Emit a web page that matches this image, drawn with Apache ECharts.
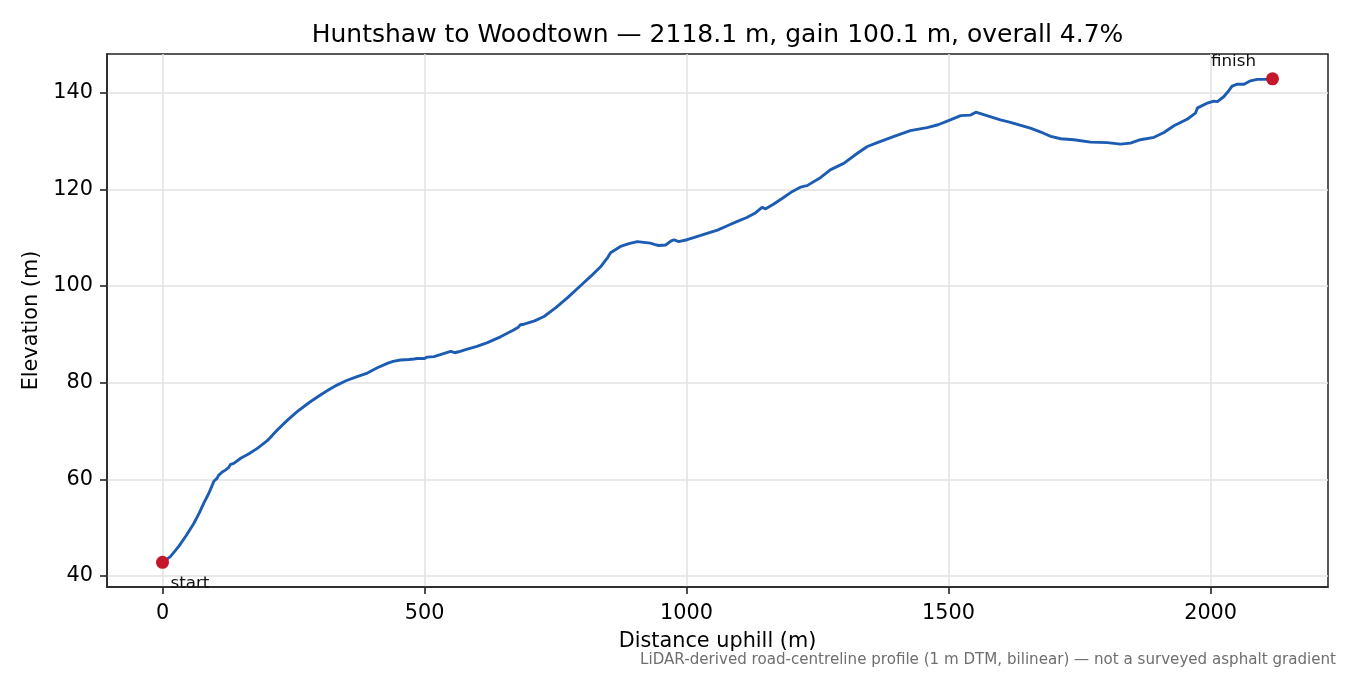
<!DOCTYPE html>
<html>
<head>
<meta charset="utf-8">
<title>Huntshaw to Woodtown</title>
<script src="https://cdn.jsdelivr.net/npm/echarts@6/dist/echarts.min.js"></script>
<style>
  html, body { margin: 0; padding: 0; background: #fff; }
  #main { width: 1350px; height: 675px; }
</style>
</head>
<body>
<div id="main"></div>
<script>
// distance along the road (m) and elevation (m)
var distance = [
  0, 15, 31, 45, 60, 70, 79, 88, 95, 98, 104, 107, 114, 120, 126, 130, 136,
  150, 165, 181, 200, 219, 238, 257, 280, 302, 318, 333, 350, 370, 391,
  410, 429, 440, 454, 470, 480, 483, 486, 500, 505, 518, 530, 550, 558,
  565, 580, 600, 620, 645, 670, 679, 683, 690, 710, 728, 750, 772, 795,
  817, 836, 850, 855, 858, 874, 890, 906, 931, 940, 947, 960, 970, 976,
  985, 1001, 1015, 1027, 1059, 1080, 1097, 1115, 1132, 1144, 1151, 1165,
  1183, 1202, 1218, 1225, 1230, 1256, 1275, 1300, 1326, 1345, 1364, 1396,
  1427, 1459, 1480, 1501, 1523, 1542, 1552, 1567, 1599, 1618, 1656, 1680,
  1695, 1714, 1739, 1771, 1803, 1828, 1847, 1866, 1892, 1911, 1930, 1956,
  1971, 1975, 1981, 1994, 2006, 2013, 2025, 2035, 2041, 2051, 2064, 2076,
  2089, 2102, 2118.1
];
var elevation = [
  42.8, 44.0, 46.1, 48.3, 50.9, 53.0, 55.1, 57.0, 58.8, 59.6, 60.2, 60.8, 61.5, 61.9, 62.4, 63.1, 63.3,
  64.4, 65.3, 66.4, 68.0, 70.2, 72.2, 74.0, 75.9, 77.5, 78.6, 79.5, 80.4, 81.2, 82.0,
  83.1, 84.0, 84.4, 84.7, 84.8, 84.9, 85.2, 85.0, 85.0, 85.3, 85.4, 85.8, 86.5, 86.2,
  86.4, 86.9, 87.5, 88.3, 89.5, 90.9, 91.5, 92.0, 92.1, 92.8, 93.7, 95.5, 97.5, 99.8,
  102.0, 104.0, 106.0, 106.9, 106.7, 108.2, 108.8, 109.2, 108.9, 108.6, 108.4, 108.5, 109.3, 109.6,
  109.2, 109.6, 110.1, 110.5, 111.6, 112.6, 113.4, 114.2, 115.2, 116.3, 116.0, 116.9,
  118.2, 119.6, 120.5, 120.7, 120.8, 122.5, 124.1, 125.4, 127.5, 128.9, 129.7, 131.0,
  132.2, 132.8, 133.4, 134.3, 135.3, 135.4, 136.0, 135.5, 134.4, 133.9, 132.7, 131.7,
  131.0, 130.5, 130.3, 129.8, 129.7, 129.4, 129.6, 130.3, 130.8, 131.8, 133.2, 134.6,
  135.8, 136.9, 137.2, 137.9, 138.3, 138.2, 139.2, 140.5, 141.4, 141.8, 141.8, 142.5,
  142.8, 142.8, 142.9
];
var xTicks = [0, 500, 1000, 1500, 2000];
var yTicks = [40, 60, 80, 100, 120, 140];
var endLabels = ['start', 'finish'];

var profile = distance.map(function (d, i) { return [d, elevation[i]]; });
var last = distance.length - 1;

var chart = echarts.init(document.getElementById('main'), null, { renderer: 'canvas' });
var font = 'DejaVu Sans';
var plain = function (v) { return String(v); };

var option = {
  animation: false,
  backgroundColor: '#fff',
  grid: {
    left: 107, right: 22, top: 54, bottom: 88,
    show: true, borderColor: '#222', borderWidth: 1.5, backgroundColor: 'transparent'
  },
  xAxis: {
    type: 'value',
    min: -105.9, max: 2224,
    name: 'Distance uphill (m)',
    nameLocation: 'middle', nameGap: 44,
    nameTextStyle: { fontFamily: font, fontSize: 20.8, color: '#000' },
    axisLine: { show: true, onZero: false, lineStyle: { color: '#222', width: 1.5 } },
    axisTick: { show: true, length: 7, customValues: xTicks, lineStyle: { color: '#222', width: 1.6 } },
    axisLabel: { customValues: xTicks, formatter: plain, margin: 16, fontFamily: font, fontSize: 20.8, color: '#000' },
    splitLine: { show: true, lineStyle: { color: '#e2e2e2', width: 1.5 } }
  },
  yAxis: {
    type: 'value',
    min: 37.7, max: 148.05,
    name: 'Elevation (m)',
    nameLocation: 'middle', nameGap: 59, nameRotate: 90,
    nameTextStyle: { fontFamily: font, fontSize: 20.8, color: '#000' },
    axisLine: { show: true, onZero: false, lineStyle: { color: '#222', width: 1.5 } },
    axisTick: { show: true, length: 7, customValues: yTicks, lineStyle: { color: '#222', width: 1.6 } },
    axisLabel: { customValues: yTicks, formatter: plain, margin: 14, fontFamily: font, fontSize: 20.8, color: '#000' },
    splitLine: { show: true, lineStyle: { color: '#e2e2e2', width: 1.5 } }
  },
  series: [
    {
      type: 'line',
      data: profile,
      showSymbol: false,
      lineStyle: { color: '#1c5db3', width: 2.9 },
      z: 2
    },
    {
      type: 'scatter',
      symbolSize: 13,
      itemStyle: { color: '#c4182a', opacity: 1 },
      z: 3,
      data: [
        {
          value: [distance[0], elevation[0]],
          label: {
            show: true, formatter: endLabels[0], position: 'inside',
            align: 'left', verticalAlign: 'middle', offset: [8, 21],
            fontFamily: font, fontSize: 16.7, color: '#111'
          }
        },
        {
          value: [distance[last], elevation[last]],
          label: {
            show: true, formatter: endLabels[1], position: 'inside',
            align: 'center', verticalAlign: 'middle', offset: [-39, -17],
            fontFamily: font, fontSize: 16.7, color: '#111'
          }
        }
      ]
    }
  ],
  graphic: [
    {
      type: 'text', x: 717.5, y: 35, z: 10,
      style: {
        text: 'Huntshaw to Woodtown \u2014 2118.1 m, gain 100.1 m, overall 4.7%',
        fontFamily: font, fontSize: 25, fill: '#000',
        textAlign: 'center', textVerticalAlign: 'middle'
      }
    },
    {
      type: 'text', x: 1336, y: 660, z: 10,
      style: {
        text: 'LiDAR-derived road-centreline profile (1 m DTM, bilinear) \u2014 not a surveyed asphalt gradient',
        fontFamily: font, fontSize: 15.1, fill: '#6e6e6e',
        textAlign: 'right', textVerticalAlign: 'middle'
      }
    }
  ]
};

chart.setOption(option);
</script>
</body>
</html>
